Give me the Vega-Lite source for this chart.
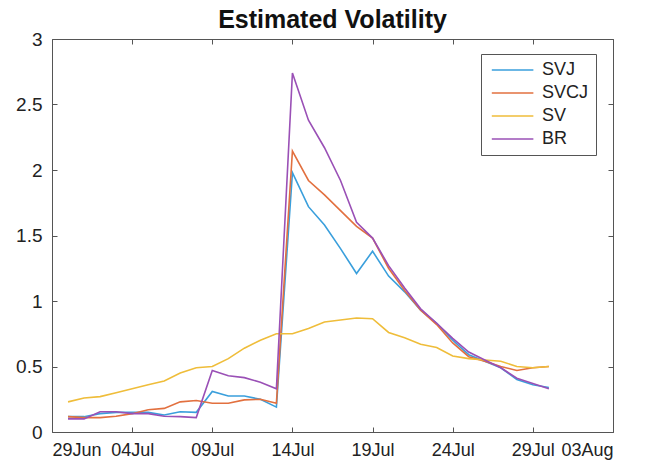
{
  "$schema": "https://vega.github.io/schema/vega-lite/v6.json",
  "autosize": {"type": "none"},
  "width": 561,
  "height": 393,
  "padding": {"left": 52, "top": 39, "right": 32, "bottom": 30},
  "background": "white",
  "config": {
    "font": "Liberation Sans",
    "view": {"stroke": "#555", "strokeWidth": 1},
    "axis": {"grid": false, "domain": false, "tickColor": "#555", "tickSize": -5, "labelColor": "#222", "labelFontSize": 19, "labelFont": "Liberation Sans"}
  },
  "title": {"text": "Estimated Volatility", "fontSize": 25, "fontWeight": "bold", "font": "Liberation Sans", "color": "#111", "offset": -3, "anchor": "middle"},
  "data": {"values": [
    {"date":"2020-06-30","model":"SVJ","vol":0.117},{"date":"2020-07-01","model":"SVJ","vol":0.117},{"date":"2020-07-02","model":"SVJ","vol":0.14},{"date":"2020-07-03","model":"SVJ","vol":0.15},{"date":"2020-07-04","model":"SVJ","vol":0.15},{"date":"2020-07-05","model":"SVJ","vol":0.15},{"date":"2020-07-06","model":"SVJ","vol":0.13},{"date":"2020-07-07","model":"SVJ","vol":0.155},{"date":"2020-07-08","model":"SVJ","vol":0.15},{"date":"2020-07-09","model":"SVJ","vol":0.31},{"date":"2020-07-10","model":"SVJ","vol":0.275},{"date":"2020-07-11","model":"SVJ","vol":0.275},{"date":"2020-07-12","model":"SVJ","vol":0.25},{"date":"2020-07-13","model":"SVJ","vol":0.19},{"date":"2020-07-14","model":"SVJ","vol":1.98},{"date":"2020-07-15","model":"SVJ","vol":1.72},{"date":"2020-07-16","model":"SVJ","vol":1.58},{"date":"2020-07-17","model":"SVJ","vol":1.40},{"date":"2020-07-18","model":"SVJ","vol":1.21},{"date":"2020-07-19","model":"SVJ","vol":1.38},{"date":"2020-07-20","model":"SVJ","vol":1.19},{"date":"2020-07-21","model":"SVJ","vol":1.07},{"date":"2020-07-22","model":"SVJ","vol":0.93},{"date":"2020-07-23","model":"SVJ","vol":0.83},{"date":"2020-07-24","model":"SVJ","vol":0.70},{"date":"2020-07-25","model":"SVJ","vol":0.59},{"date":"2020-07-26","model":"SVJ","vol":0.54},{"date":"2020-07-27","model":"SVJ","vol":0.49},{"date":"2020-07-28","model":"SVJ","vol":0.40},{"date":"2020-07-29","model":"SVJ","vol":0.36},{"date":"2020-07-30","model":"SVJ","vol":0.34},
    {"date":"2020-06-30","model":"SVCJ","vol":0.117},{"date":"2020-07-01","model":"SVCJ","vol":0.11},{"date":"2020-07-02","model":"SVCJ","vol":0.11},{"date":"2020-07-03","model":"SVCJ","vol":0.12},{"date":"2020-07-04","model":"SVCJ","vol":0.14},{"date":"2020-07-05","model":"SVCJ","vol":0.17},{"date":"2020-07-06","model":"SVCJ","vol":0.18},{"date":"2020-07-07","model":"SVCJ","vol":0.23},{"date":"2020-07-08","model":"SVCJ","vol":0.24},{"date":"2020-07-09","model":"SVCJ","vol":0.22},{"date":"2020-07-10","model":"SVCJ","vol":0.22},{"date":"2020-07-11","model":"SVCJ","vol":0.245},{"date":"2020-07-12","model":"SVCJ","vol":0.25},{"date":"2020-07-13","model":"SVCJ","vol":0.22},{"date":"2020-07-14","model":"SVCJ","vol":2.145},{"date":"2020-07-15","model":"SVCJ","vol":1.92},{"date":"2020-07-16","model":"SVCJ","vol":1.81},{"date":"2020-07-17","model":"SVCJ","vol":1.69},{"date":"2020-07-18","model":"SVCJ","vol":1.57},{"date":"2020-07-19","model":"SVCJ","vol":1.48},{"date":"2020-07-20","model":"SVCJ","vol":1.25},{"date":"2020-07-21","model":"SVCJ","vol":1.08},{"date":"2020-07-22","model":"SVCJ","vol":0.93},{"date":"2020-07-23","model":"SVCJ","vol":0.82},{"date":"2020-07-24","model":"SVCJ","vol":0.68},{"date":"2020-07-25","model":"SVCJ","vol":0.575},{"date":"2020-07-26","model":"SVCJ","vol":0.54},{"date":"2020-07-27","model":"SVCJ","vol":0.50},{"date":"2020-07-28","model":"SVCJ","vol":0.47},{"date":"2020-07-29","model":"SVCJ","vol":0.49},{"date":"2020-07-30","model":"SVCJ","vol":0.50},
    {"date":"2020-06-30","model":"SV","vol":0.23},{"date":"2020-07-01","model":"SV","vol":0.26},{"date":"2020-07-02","model":"SV","vol":0.27},{"date":"2020-07-03","model":"SV","vol":0.30},{"date":"2020-07-04","model":"SV","vol":0.33},{"date":"2020-07-05","model":"SV","vol":0.36},{"date":"2020-07-06","model":"SV","vol":0.39},{"date":"2020-07-07","model":"SV","vol":0.45},{"date":"2020-07-08","model":"SV","vol":0.49},{"date":"2020-07-09","model":"SV","vol":0.50},{"date":"2020-07-10","model":"SV","vol":0.56},{"date":"2020-07-11","model":"SV","vol":0.64},{"date":"2020-07-12","model":"SV","vol":0.70},{"date":"2020-07-13","model":"SV","vol":0.75},{"date":"2020-07-14","model":"SV","vol":0.75},{"date":"2020-07-15","model":"SV","vol":0.79},{"date":"2020-07-16","model":"SV","vol":0.84},{"date":"2020-07-17","model":"SV","vol":0.855},{"date":"2020-07-18","model":"SV","vol":0.87},{"date":"2020-07-19","model":"SV","vol":0.865},{"date":"2020-07-20","model":"SV","vol":0.76},{"date":"2020-07-21","model":"SV","vol":0.72},{"date":"2020-07-22","model":"SV","vol":0.67},{"date":"2020-07-23","model":"SV","vol":0.645},{"date":"2020-07-24","model":"SV","vol":0.58},{"date":"2020-07-25","model":"SV","vol":0.56},{"date":"2020-07-26","model":"SV","vol":0.55},{"date":"2020-07-27","model":"SV","vol":0.54},{"date":"2020-07-28","model":"SV","vol":0.50},{"date":"2020-07-29","model":"SV","vol":0.49},{"date":"2020-07-30","model":"SV","vol":0.50},
    {"date":"2020-06-30","model":"BR","vol":0.10},{"date":"2020-07-01","model":"BR","vol":0.10},{"date":"2020-07-02","model":"BR","vol":0.155},{"date":"2020-07-03","model":"BR","vol":0.155},{"date":"2020-07-04","model":"BR","vol":0.14},{"date":"2020-07-05","model":"BR","vol":0.14},{"date":"2020-07-06","model":"BR","vol":0.12},{"date":"2020-07-07","model":"BR","vol":0.117},{"date":"2020-07-08","model":"BR","vol":0.11},{"date":"2020-07-09","model":"BR","vol":0.47},{"date":"2020-07-10","model":"BR","vol":0.43},{"date":"2020-07-11","model":"BR","vol":0.415},{"date":"2020-07-12","model":"BR","vol":0.38},{"date":"2020-07-13","model":"BR","vol":0.33},{"date":"2020-07-14","model":"BR","vol":2.74},{"date":"2020-07-15","model":"BR","vol":2.38},{"date":"2020-07-16","model":"BR","vol":2.17},{"date":"2020-07-17","model":"BR","vol":1.92},{"date":"2020-07-18","model":"BR","vol":1.60},{"date":"2020-07-19","model":"BR","vol":1.48},{"date":"2020-07-20","model":"BR","vol":1.27},{"date":"2020-07-21","model":"BR","vol":1.10},{"date":"2020-07-22","model":"BR","vol":0.94},{"date":"2020-07-23","model":"BR","vol":0.83},{"date":"2020-07-24","model":"BR","vol":0.715},{"date":"2020-07-25","model":"BR","vol":0.61},{"date":"2020-07-26","model":"BR","vol":0.55},{"date":"2020-07-27","model":"BR","vol":0.49},{"date":"2020-07-28","model":"BR","vol":0.41},{"date":"2020-07-29","model":"BR","vol":0.37},{"date":"2020-07-30","model":"BR","vol":0.33}
  ]},
  "layer": [
    {
      "mark": {"type": "line", "strokeWidth": 1.6},
      "encoding": {
        "x": {"field": "date", "type": "temporal", "title": null,
          "scale": {"type": "utc", "domain": [{"year": 2020, "month": 6, "date": 29, "utc": true}, {"year": 2020, "month": 8, "date": 3, "utc": true}]},
          "axis": {"orient": "bottom", "format": "%d%b", "labelPadding": 14, "labelFontSize": 18, "labelOverlap": false,
            "values": [{"year": 2020, "month": 6, "date": 29, "utc": true}, {"year": 2020, "month": 7, "date": 4, "utc": true}, {"year": 2020, "month": 7, "date": 9, "utc": true}, {"year": 2020, "month": 7, "date": 14, "utc": true}, {"year": 2020, "month": 7, "date": 19, "utc": true}, {"year": 2020, "month": 7, "date": 24, "utc": true}, {"year": 2020, "month": 7, "date": 29, "utc": true}, {"year": 2020, "month": 8, "date": 3, "utc": true}]}},
        "y": {"field": "vol", "type": "quantitative", "title": null,
          "scale": {"domain": [0, 3], "nice": false, "zero": true},
          "axis": {"orient": "left", "values": [0, 0.5, 1, 1.5, 2, 2.5, 3], "format": "~g", "labelPadding": 15, "labelOverlap": false}},
        "color": {"field": "model", "type": "nominal", "sort": ["SVJ", "SVCJ", "SV", "BR"],
          "scale": {"domain": ["SVJ", "SVCJ", "SV", "BR"], "range": ["#3a9fdc", "#e2703f", "#efbd3a", "#9a50b6"]},
          "legend": {"title": null, "orient": "none", "legendX": 429, "legendY": 15, "symbolType": "M-1,0H7", "symbolSize": 108, "symbolStrokeWidth": 1.6, "labelFontSize": 18, "labelColor": "#222", "labelOffset": 36, "rowPadding": 5, "padding": 7, "strokeColor": "#555", "fillColor": "white"}}
      }
    },
    {
      "mark": {"type": "line", "opacity": 0},
      "encoding": {
        "x": {"field": "date", "type": "temporal", "title": null,
          "axis": {"orient": "top", "labels": false,
            "values": [{"year": 2020, "month": 6, "date": 29, "utc": true}, {"year": 2020, "month": 7, "date": 4, "utc": true}, {"year": 2020, "month": 7, "date": 9, "utc": true}, {"year": 2020, "month": 7, "date": 14, "utc": true}, {"year": 2020, "month": 7, "date": 19, "utc": true}, {"year": 2020, "month": 7, "date": 24, "utc": true}, {"year": 2020, "month": 7, "date": 29, "utc": true}, {"year": 2020, "month": 8, "date": 3, "utc": true}]}},
        "y": {"field": "vol", "type": "quantitative", "title": null,
          "axis": {"orient": "right", "labels": false, "values": [0, 0.5, 1, 1.5, 2, 2.5, 3]}},
        "detail": {"field": "model"}
      }
    }
  ],
  "resolve": {"axis": {"x": "independent", "y": "independent"}}
}
